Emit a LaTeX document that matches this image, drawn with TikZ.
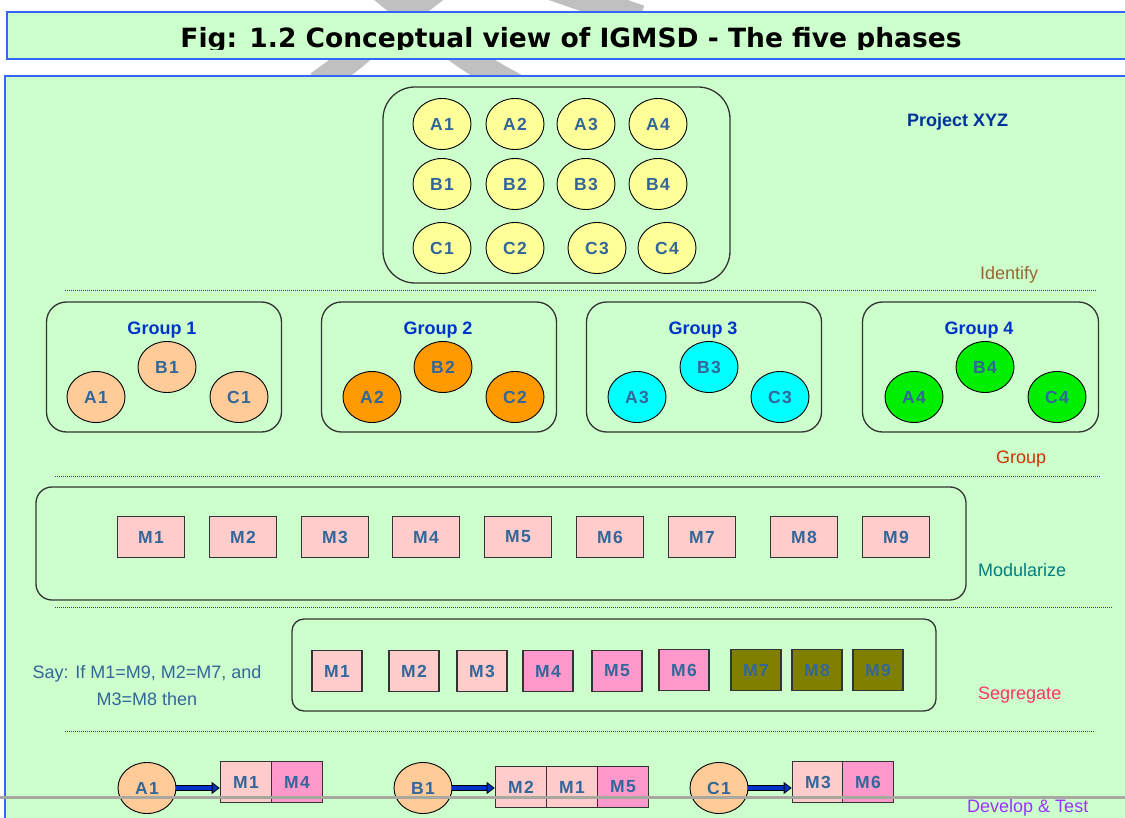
\documentclass[tikz,border=0pt]{standalone}
\usepackage{fontspec}
\setmainfont{Liberation Sans}
\newfontfamily\titlefont{DejaVu Sans}
\newfontfamily\lblfont{Liberation Sans}[LetterSpace=8]
\usetikzlibrary{shapes.geometric,arrows.meta}

\definecolor{pagegreen}{HTML}{CCFFCC}
\definecolor{frameblue}{HTML}{3366FF}
\definecolor{sepblue}{HTML}{3333CC}
\definecolor{idyellow}{HTML}{FFFF99}
\definecolor{gonefill}{HTML}{FFCC99}
\definecolor{gtwofill}{HTML}{FF9900}
\definecolor{gthreefill}{HTML}{00FFFF}
\definecolor{gfourfill}{HTML}{00EE00}
\definecolor{mpink}{HTML}{FFCCCC}
\definecolor{mrose}{HTML}{FF99CC}
\definecolor{molive}{HTML}{808000}
\definecolor{lbltext}{HTML}{336699}
\definecolor{grptext}{HTML}{0033CC}
\definecolor{projtext}{HTML}{003399}
\definecolor{idtext}{HTML}{996633}
\definecolor{grouptext}{HTML}{CC3300}
\definecolor{modtext}{HTML}{007F7F}
\definecolor{segtext}{HTML}{FF3366}
\definecolor{devtext}{HTML}{9933FF}
\definecolor{arrowblue}{HTML}{0033CC}
\definecolor{wmgray}{HTML}{C0C0C0}
\definecolor{pagegray}{HTML}{A8A8A0}

\newcommand{\lblsize}{\fontsize{17.5}{20}\selectfont}
\newcommand{\capsize}{\fontsize{18}{27}\selectfont}

\tikzset{
    ball/.style={ellipse, draw=black, line width=0.9pt, minimum width=58pt,
        minimum height=51pt, inner sep=0pt, text=lbltext, font=\lblfont\bfseries\lblsize},
    pod/.style={draw=black!80, line width=1.3pt, fill=pagegreen},
    modbox/.style={rectangle, draw=black!80, line width=1.6pt, minimum height=41pt,
        inner sep=0pt, text=lbltext, font=\lblfont\bfseries\lblsize},
    sepline/.style={sepblue, line width=1pt, dash pattern=on 1.2pt off 0.8pt},
    phase/.style={anchor=base west, inner sep=0pt, font=\capsize},
    grouptitle/.style={anchor=base, inner sep=0pt, text=grptext, font=\bfseries\capsize},
    conn/.style={line width=3.5pt, draw=arrowblue,
        -{Triangle[length=8pt,width=12pt,fill=arrowblue,color=black,line width=0.8pt]},
        preaction={draw=black, line width=5.5pt, -, shorten >=7pt}},
    wmark/.style={wmgray, line width=26pt}
}

\begin{document}
\begin{tikzpicture}[x=1pt, y=-1pt]
    \useasboundingbox (0,0) rectangle (1125,818);
    \clip (0,0) rectangle (1125,818);

    % watermark behind the page
    \draw[wmark] (318,84) .. controls (360,55) and (395,20) .. (435,-10);
    \draw[wmark] (380,-12) .. controls (420,20) and (455,55) .. (515,86);
    \draw[wmark] (548,-14) -- (640,18);

    % title bar
    \draw[fill=pagegreen, draw=frameblue, line width=1.5pt] (7,12) rectangle (1135,59);
    \begin{scope}
        \clip (7,13) rectangle (1125,49.5);
        \node[anchor=base, inner sep=0pt, font=\titlefont\bfseries\fontsize{26.5}{30}\selectfont]
            (title) at (571,48) {Fig: 1.2 Conceptual view of IGMSD - The five phases};
    \end{scope}

    % page body
    \draw[fill=pagegreen, draw=frameblue, line width=1.5pt] (5,76) rectangle (1135,840);

    % identify
    \node[pod, rounded corners=32pt, minimum width=347pt, minimum height=196pt] (idbox) at (556.5,185) {};
    \node[ball, fill=idyellow] (ia1) at (442,124) {A1};
    \node[ball, fill=idyellow] (ia2) at (515,124) {A2};
    \node[ball, fill=idyellow] (ia3) at (586,124) {A3};
    \node[ball, fill=idyellow] (ia4) at (658,124) {A4};
    \node[ball, fill=idyellow] (ib1) at (442,184) {B1};
    \node[ball, fill=idyellow] (ib2) at (515,184) {B2};
    \node[ball, fill=idyellow] (ib3) at (586,184) {B3};
    \node[ball, fill=idyellow] (ib4) at (658,184) {B4};
    \node[ball, fill=idyellow] (ic1) at (442,248) {C1};
    \node[ball, fill=idyellow] (ic2) at (515,248) {C2};
    \node[ball, fill=idyellow] (ic3) at (597,248) {C3};
    \node[ball, fill=idyellow] (ic4) at (667,248) {C4};
    \node[anchor=base west, inner sep=0pt, text=projtext, font=\bfseries\capsize] (proj) at (907,127) {Project XYZ};
    \node[phase, text=idtext] (identify) at (980,280) {Identify};
    \draw[sepline] (65,291) -- (1097,291);

    % group
    \node[pod, rounded corners=20pt, minimum width=235pt, minimum height=130pt] (gbox1) at (164,367) {};
    \node[pod, rounded corners=20pt, minimum width=235pt, minimum height=130pt] (gbox2) at (439,367) {};
    \node[pod, rounded corners=20pt, minimum width=235pt, minimum height=130pt] (gbox3) at (704,367) {};
    \node[pod, rounded corners=20pt, minimum width=236pt, minimum height=130pt] (gbox4) at (980.5,367) {};
    \node[grouptitle] (gtitle1) at (162,335) {Group 1};
    \node[grouptitle] (gtitle2) at (438,335) {Group 2};
    \node[grouptitle] (gtitle3) at (703,335) {Group 3};
    \node[grouptitle] (gtitle4) at (979,335) {Group 4};
    \node[ball, fill=gonefill] (ga1) at (96,397) {A1};
    \node[ball, fill=gonefill] (gb1) at (167,367) {B1};
    \node[ball, fill=gonefill] (gc1) at (239,397) {C1};
    \node[ball, fill=gtwofill] (ga2) at (372,397) {A2};
    \node[ball, fill=gtwofill] (gb2) at (443,367) {B2};
    \node[ball, fill=gtwofill] (gc2) at (515,397) {C2};
    \node[ball, fill=gthreefill] (ga3) at (637,397) {A3};
    \node[ball, fill=gthreefill] (gb3) at (709,367) {B3};
    \node[ball, fill=gthreefill] (gc3) at (780,397) {C3};
    \node[ball, fill=gfourfill] (ga4) at (914,397) {A4};
    \node[ball, fill=gfourfill] (gb4) at (985,367) {B4};
    \node[ball, fill=gfourfill] (gc4) at (1057,397) {C4};
    \node[phase, text=grouptext] (group) at (996,463) {Group};
    \draw[sepline] (55,476) -- (1100,476);

    % modularize
    \node[pod, rounded corners=16pt, minimum width=930pt, minimum height=113pt] (modbox) at (501,543.5) {};
    \node[modbox, fill=mpink, minimum width=67pt] (mm1) at (151,537) {M1};
    \node[modbox, fill=mpink, minimum width=67pt] (mm2) at (243,537) {M2};
    \node[modbox, fill=mpink, minimum width=67pt] (mm3) at (335,537) {M3};
    \node[modbox, fill=mpink, minimum width=67pt] (mm4) at (426,537) {M4};
    \node[modbox, fill=mpink, minimum width=67pt] (mm5) at (518,537) {M5};
    \node[modbox, fill=mpink, minimum width=67pt] (mm6) at (610,537) {M6};
    \node[modbox, fill=mpink, minimum width=67pt] (mm7) at (702,537) {M7};
    \node[modbox, fill=mpink, minimum width=67pt] (mm8) at (804,537) {M8};
    \node[modbox, fill=mpink, minimum width=67pt] (mm9) at (896,537) {M9};
    \node[phase, text=modtext] (modularize) at (978,576) {Modularize};
    \draw[sepline] (55,607) -- (1113,607);

    % segregate
    \node[anchor=base, align=center, inner sep=0pt, text=lbltext, font=\capsize] (say) at (147,705)
        {Say: If M1=M9, M2=M7, and\\M3=M8 then};
    \node[pod, rounded corners=12pt, minimum width=644pt, minimum height=92pt] (segbox) at (614,665) {};
    \node[modbox, fill=mpink, minimum width=50pt] (sm1) at (337,671) {M1};
    \node[modbox, fill=mpink, minimum width=50pt] (sm2) at (414,671) {M2};
    \node[modbox, fill=mpink, minimum width=50pt] (sm3) at (482,671) {M3};
    \node[modbox, fill=mrose, minimum width=50pt] (sm4) at (548,671) {M4};
    \node[modbox, fill=mrose, minimum width=50pt] (sm5) at (617,671) {M5};
    \node[modbox, fill=mrose, minimum width=50pt] (sm6) at (684,670) {M6};
    \node[modbox, fill=molive, minimum width=50pt] (sm7) at (756,670) {M7};
    \node[modbox, fill=molive, minimum width=50pt] (sm8) at (817,670) {M8};
    \node[modbox, fill=molive, minimum width=50pt] (sm9) at (878,670) {M9};
    \node[phase, text=segtext] (segregate) at (978,699) {Segregate};
    \draw[sepline] (65,731) -- (1095,731);

    % develop and test
    \node[ball, fill=gonefill] (da1) at (147,788) {A1};
    \node[modbox, fill=mpink, minimum width=51pt] (dm1) at (246,782) {M1};
    \node[modbox, fill=mrose, minimum width=51pt] (dm4) at (297,782) {M4};
    \node[ball, fill=gonefill] (db1) at (423,788) {B1};
    \node[modbox, fill=mpink, minimum width=51pt] (dm2) at (521,787) {M2};
    \node[modbox, fill=mpink, minimum width=51pt] (dmx1) at (572,787) {M1};
    \node[modbox, fill=mrose, minimum width=51pt] (dm5) at (623,787) {M5};
    \node[ball, fill=gonefill] (dc1) at (719,788) {C1};
    \node[modbox, fill=mpink, minimum width=51pt] (dm3) at (818,782) {M3};
    \node[modbox, fill=mrose, minimum width=51pt] (dm6) at (868,782) {M6};
    \draw[conn] (da1.east) -- (da1.east -| dm1.west);
    \draw[conn] (db1.east) -- (db1.east -| dm2.west);
    \draw[conn] (dc1.east) -- (dc1.east -| dm3.west);
    \node[phase, text=devtext] (develop) at (967,812) {Develop \& Test};

    % page break
    \draw[pagegray, line width=3pt] (0,797) -- (1125,797);
\end{tikzpicture}
\end{document}
